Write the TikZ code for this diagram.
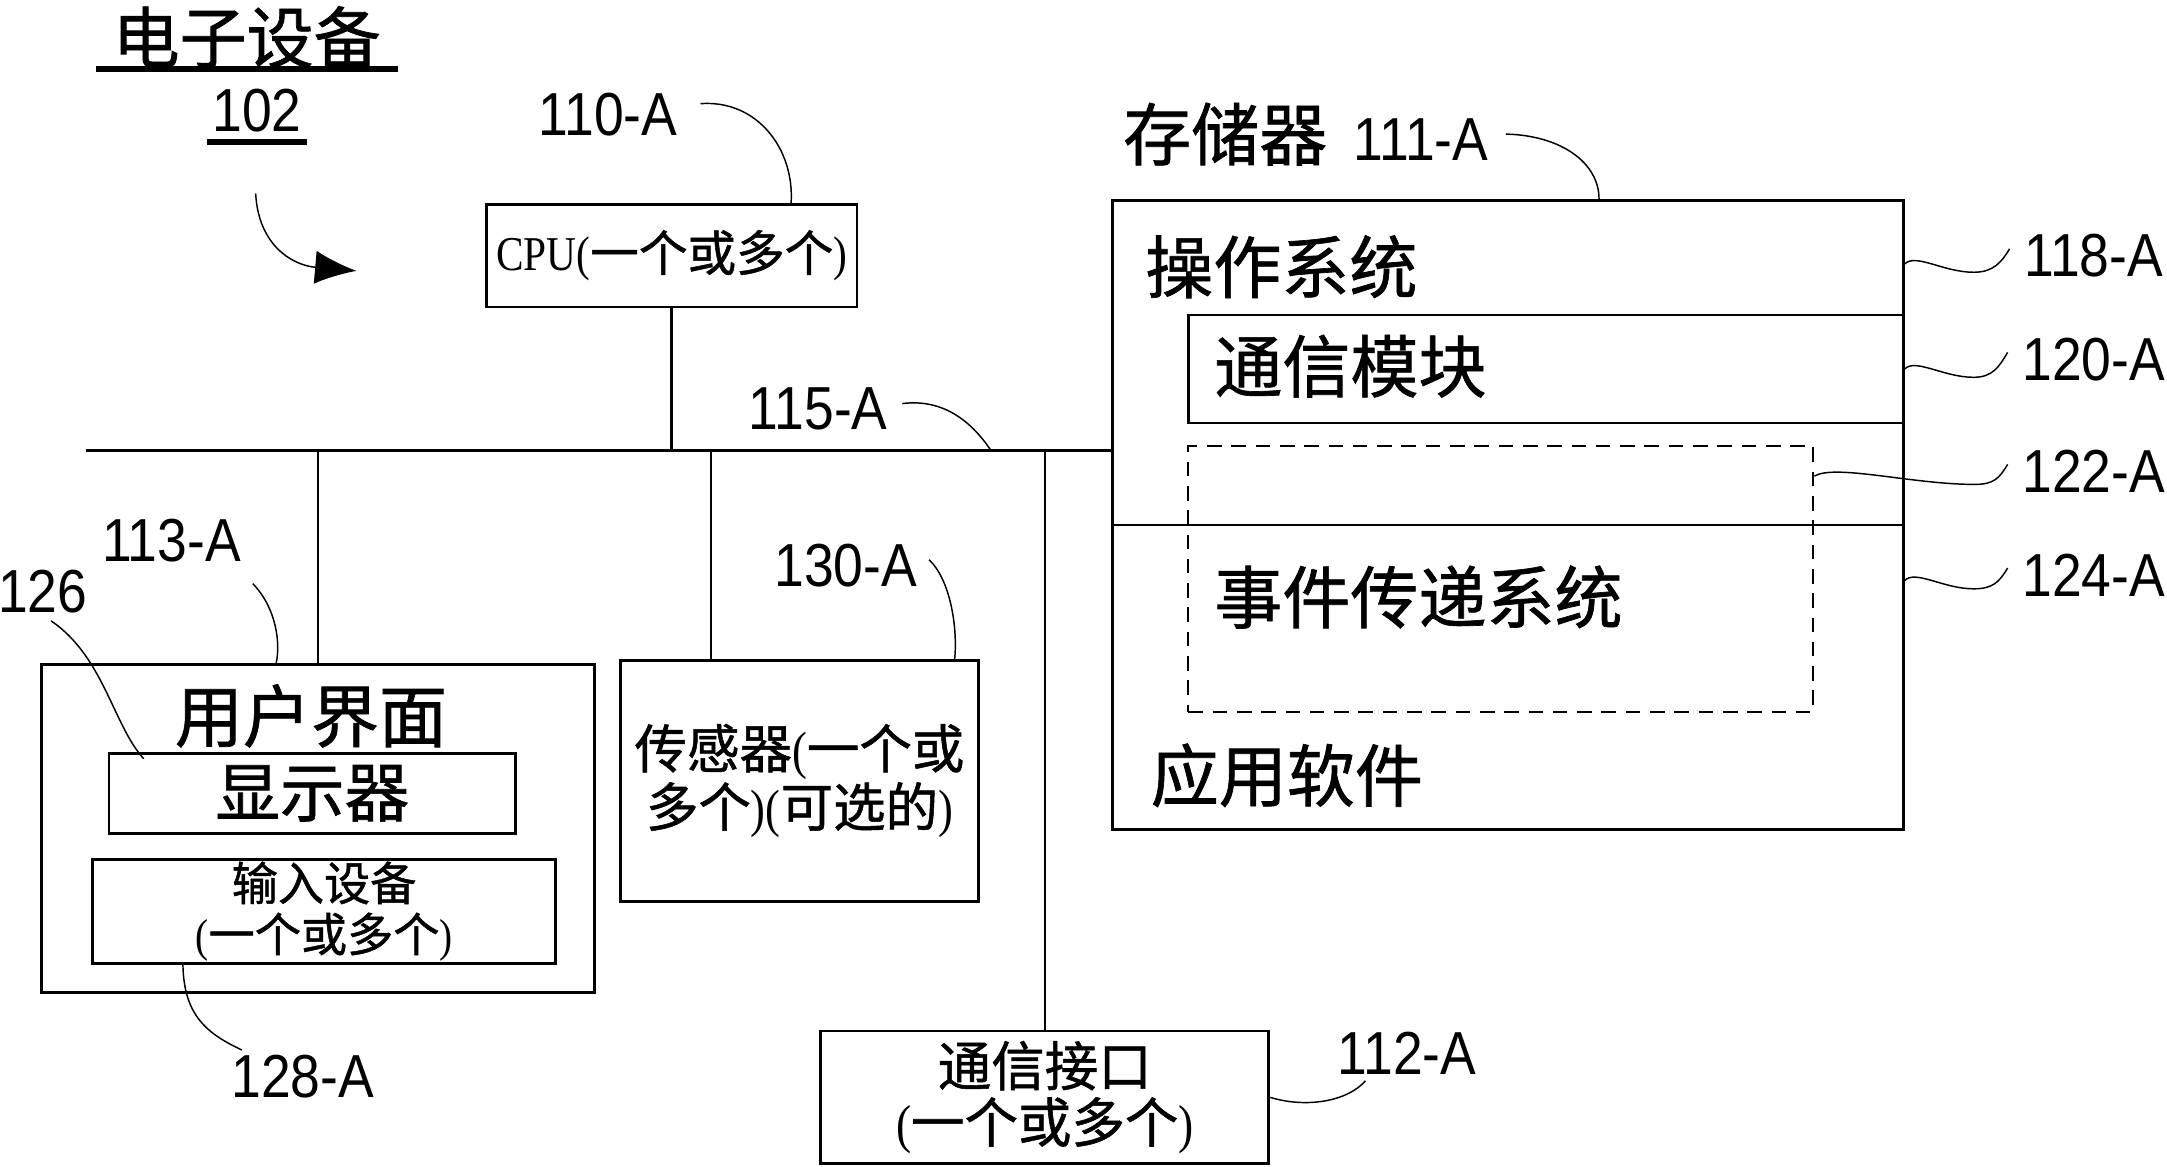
\documentclass[tikz,border=0pt]{standalone}
\usepackage{fontspec}
\setmainfont{Liberation Serif}[FakeStretch=0.85]
\setsansfont{Liberation Sans}[FakeStretch=0.88]
\newfontfamily\cjk{Noto Sans CJK SC}[FakeBold=1]
\usetikzlibrary{arrows.meta,calc}
\begin{document}
\begin{tikzpicture}[x=0.01cm,y=-0.01cm,
    box/.style={draw,line width=0.55pt,inner sep=0pt,align=center},
    num/.style={font=\sffamily\fontsize{12.5}{14}\selectfont,inner sep=0pt},
    big/.style={font=\cjk\fontsize{14}{16}\selectfont,inner sep=0pt},
    lead/.style={line width=0.3pt}]
    \useasboundingbox (0,0) rectangle (1568,844);
    % title
    \node[font=\cjk\fontsize{13.8}{15}\selectfont,minimum width=2.17cm,inner sep=0pt] (ttl) at (178.5,27) {电子设备};
    \node[num] (n102) at (186,80) {102};
    \draw[line width=1.2pt] (ttl.south west) -- (ttl.south east);
    \draw[line width=1.2pt] ([shift={(-3,0)},yshift=-1.8pt]n102.south west) -- ([shift={(3,0)},yshift=-1.8pt]n102.south east);
    \coordinate (arrS) at (185,140); \coordinate (arrE) at (258,196);
    \draw[lead,-{Latex[length=0.3cm,width=0.24cm]}] (arrS) .. controls (187,178) and (212,192) .. (arrE);
    % boxes
    \node[box,minimum width=2.68cm,minimum height=0.74cm,font=\fontsize{10}{11}\selectfont] (cpu) at (486,185) {CPU({\cjk 一个或多个})};
    \node[box,minimum width=4.00cm,minimum height=2.37cm] (ui) at (230,599.5) {};
    \node[big] (uit) at (225,518) {用户界面};
    \node[box,minimum width=2.94cm,minimum height=0.58cm,font=\cjk\fontsize{13.3}{15}\selectfont] (disp) at (226,574) {显示器};
    \node[box,minimum width=3.35cm,minimum height=0.75cm,font=\fontsize{9.5}{10.5}\selectfont] (inp) at (234.5,659.5) {{\cjk 输入设备}\\({\cjk 一个或多个})};
    \node[box,minimum width=2.59cm,minimum height=1.74cm,font=\fontsize{10.8}{12}\selectfont] (sens) at (578.5,565) {{\cjk 传感器}({\cjk 一个或}\\{\cjk 多个})({\cjk 可选的})};
    \node[box,minimum width=3.24cm,minimum height=0.96cm,font=\fontsize{11}{11.6}\selectfont] (comm) at (756,794) {{\cjk 通信接口}\\({\cjk 一个或多个})};
    % memory
    \node[box,minimum width=5.72cm,minimum height=4.55cm] (mem) at (1091,372.5) {};
    \node[box,minimum width=5.17cm,minimum height=0.78cm] (cmod) at (1118.5,267) {};
    \node[box,dashed,dash pattern=on 3pt off 2pt,line width=0.4pt,minimum width=4.52cm,minimum height=1.92cm] (evt) at (1086,419) {};
    \draw[line width=0.55pt] ($(mem.north west)!0.516!(mem.south west)$) -- ($(mem.north east)!0.516!(mem.south east)$);
    \node[big,anchor=west] (os) at (828,193) {操作系统};
    \node[big,anchor=west] (cmt) at (878,265) {通信模块};
    \node[big,anchor=west] (evtt) at (878,432) {事件传递系统};
    \node[big,anchor=west] (app) at (832,561) {应用软件};
    % bus
    \coordinate (busW) at (62,326); \coordinate (busE) at (mem.west |- busW);
    \draw[line width=0.65pt] (busW) -- (busE);
    \coordinate (sensT) at ($(sens.north west)!0.255!(sens.north east)$);
    \draw[line width=0.5pt] (cpu.south) -- (cpu.south |- busW);
    \draw[line width=0.5pt] (ui.north) -- (ui.north |- busW);
    \draw[line width=0.5pt] (sensT) -- (sensT |- busW);
    \draw[line width=0.5pt] (comm.north) -- (comm.north |- busW);
    % labels
    \node[num] (l110) at (440,83) {110-A};
    \node[inner sep=0pt,anchor=west] (l111) at (812,97) {{\cjk\fontsize{14}{16}\selectfont 存储器}\hspace{0.19cm}{\sffamily\fontsize{12.5}{14}\selectfont 111-A}};
    \node[num] (l115) at (592,296) {115-A};
    \node[num] (l113) at (124,391) {113-A};
    \node[num] (l126) at (31,428) {126};
    \node[num] (l128) at (219,779) {128-A};
    \node[num] (l130) at (612,409) {130-A};
    \node[num] (l112) at (1018,762) {112-A};
    \node[num] (l118) at (1515,185) {118-A};
    \node[num] (l120) at (1515,260) {120-A};
    \node[num] (l122) at (1515,341) {122-A};
    \node[num] (l124) at (1515,416) {124-A};
    % leaders
    \draw[lead] ([shift={(16,-8)}]l110.east) .. controls (548,72) and (575,108) .. ($(cpu.north west)!0.82!(cpu.north east)$);
    \draw[lead] ([shift={(12,0)}]l111.east) .. controls (1130,98) and (1157,118) .. ($(mem.north west)!0.615!(mem.north east)$);
    \draw[lead] ([shift={(10,-4)}]l115.east) .. controls (685,288) and (705,308) .. ($(busW)!0.883!(busE)$);
    \draw[lead] ([shift={(8,15)}]l113.south east) .. controls (200,440) and (203,465) .. ($(ui.north west)!0.425!(ui.north east)$);
    \draw[lead] ([shift={(6,5)}]l126.south) .. controls (75,475) and (82,525) .. ([shift={(0,5)}]$(disp.north west)!0.088!(disp.north east)$);
    \draw[lead] ($(inp.south west)!0.197!(inp.south east)$) .. controls (133,735) and (150,748) .. ([shift={(-44,-3)}]l128.north);
    \draw[lead] ([shift={(8,-4)}]l130.east) .. controls (688,420) and (693,455) .. ($(sens.north west)!0.93!(sens.north east)$);
    \draw[lead] (comm.east) .. controls (945,802) and (975,797) .. ([shift={(-30,4)}]l112.south);
    \draw[lead] ($(mem.north east)!0.103!(mem.south east)$) .. controls +(8,-8) and +(-22,0) .. ++(50,6) .. controls +(14,0) and +(-6,10) .. ([shift={(-10,-5)}]l118.west);
    \draw[lead] (cmod.east) .. controls +(8,-8) and +(-22,0) .. ++(50,6) .. controls +(14,0) and +(-6,10) .. ([shift={(-10,-5)}]l120.west);
    \draw[lead] ($(evt.north east)!0.115!(evt.south east)$) .. controls +(15,-9) and +(-45,0) .. ++(116,6) .. controls +(14,0) and +(-6,10) .. ([shift={(-10,-5)}]l122.west);
    \draw[lead] ($(mem.north east)!0.604!(mem.south east)$) .. controls +(8,-8) and +(-22,0) .. ++(50,6) .. controls +(14,0) and +(-6,10) .. ([shift={(-10,-5)}]l124.west);
\end{tikzpicture}
\end{document}
